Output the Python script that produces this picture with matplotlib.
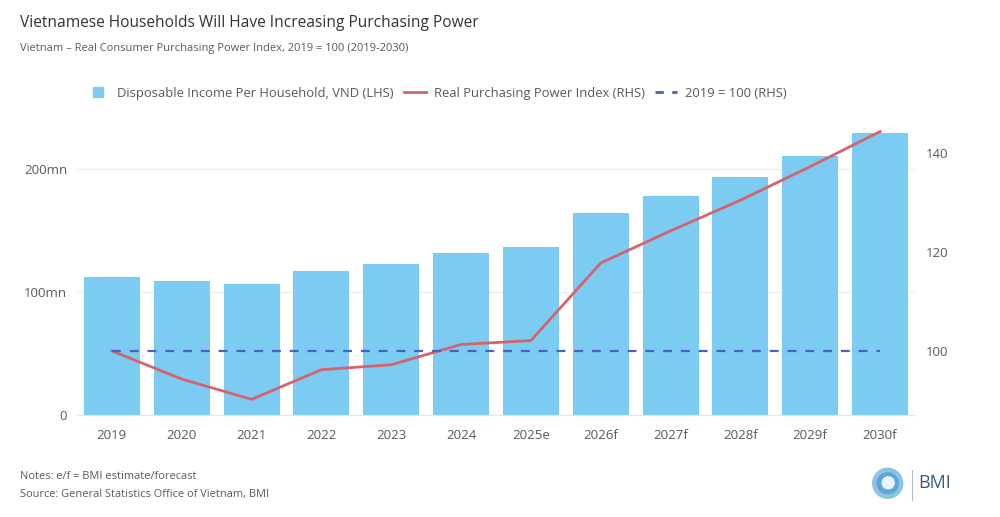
import matplotlib.pyplot as plt
from matplotlib.lines import Line2D
from matplotlib.patches import Circle
import numpy as np

plt.rcParams['font.family'] = ['Open Sans', 'DejaVu Sans']

years = ["2019", "2020", "2021", "2022", "2023", "2024", "2025e",
         "2026f", "2027f", "2028f", "2029f", "2030f"]
income_mn = [112.4, 109.2, 106.5, 117.0, 122.5, 131.5, 136.8,
             164.0, 178.3, 193.7, 210.6, 229.5]
power_index = [100.0, 94.3, 90.2, 96.2, 97.2, 101.3, 102.1,
               117.8, 124.3, 130.5, 137.3, 144.4]
base_index = [100] * len(years)

bar_color = "#7ccbf2"
line_color = "#d4636b"
dash_color = "#4a5fc4"
text_grey = "#595959"

fig = plt.figure(figsize=(10, 5.17), dpi=100)
ax = fig.add_axes([0.077, 0.197, 0.838, 0.561])
ax2 = ax.twinx()

x = np.arange(len(years))
ax.bar(x, income_mn, width=0.8, color=bar_color, zorder=2)
ax.set_xlim(-0.5, len(years) - 0.5)
ax.set_ylim(0, 235.8)
ax.set_yticks([0, 100, 200])
ax.set_yticklabels(["0", "100mn", "200mn"])
ax.set_xticks(x)
ax.set_xticklabels(years)
ax.grid(axis="y", color="#eeeeee", linewidth=1, zorder=0)
ax.set_axisbelow(True)

ax2.plot(x, power_index, color=line_color, linewidth=2, zorder=3)
ax2.plot(x, base_index, color=dash_color, linewidth=1.6, linestyle=(0, (4, 4)), zorder=3)
ax2.set_ylim(87.0, 145.7)
ax2.set_yticks([100, 120, 140])

for a in (ax, ax2):
    for s in a.spines.values():
        s.set_visible(False)
    a.tick_params(length=0, labelsize=9.5, colors=text_grey)
ax.tick_params(axis="y", pad=7)
ax.tick_params(axis="x", pad=10)
ax2.tick_params(axis="y", pad=8)
ax.spines["bottom"].set_visible(True)
ax.spines["bottom"].set_color("#e6e6e6")

fig.text(0.02, 0.956, "Vietnamese Households Will Have Increasing Purchasing Power",
         fontsize=11.2, color="#333333", va="center")
fig.text(0.02, 0.906, "Vietnam \u2013 Real Consumer Purchasing Power Index, 2019 = 100 (2019-2030)",
         fontsize=8, color=text_grey, va="center")

handles = [
    Line2D([0], [0], color=bar_color, marker="s", markersize=7, linestyle="none"),
    Line2D([0], [0], color=line_color, linewidth=2),
    Line2D([0], [0], color=dash_color, linewidth=2, linestyle=(0, (3, 3))),
]
labels = ["Disposable Income Per Household, VND (LHS)",
          "Real Purchasing Power Index (RHS)",
          "2019 = 100 (RHS)"]
leg = fig.legend(handles, labels, loc="center", bbox_to_anchor=(0.437, 0.82), ncol=3,
                 frameon=False, fontsize=9.35, handlelength=1.7,
                 columnspacing=0.8, handletextpad=0.6)
for t in leg.get_texts():
    t.set_color(text_grey)

fig.text(0.02, 0.079, "Notes: e/f = BMI estimate/forecast", fontsize=7.9, color=text_grey, va="center")
fig.text(0.02, 0.044, "Source: General Statistics Office of Vietnam, BMI", fontsize=7.9,
         color=text_grey, va="center")

# BMI logo
logo = fig.add_axes([0.8677, 0.0265, 0.04, 0.0774])
logo.set_xlim(-20, 20)
logo.set_ylim(-20, 20)
logo.axis("off")
logo.add_patch(Circle((0, 0), 15, color="#8cc4e4"))
logo.add_patch(Circle((0, 0), 10.5, color="#5fa6d4"))
logo.add_patch(Circle((0.5, 0.5), 6, color="#e9f5fc"))
fig.add_artist(Line2D([0.9117, 0.9117], [0.033, 0.091], color="#a9bfd0", linewidth=0.8))
fig.text(0.918, 0.066, "BMI", fontsize=13, color="#3a5a80", va="center")

fig.savefig("out.png", dpi=100, facecolor="white")
